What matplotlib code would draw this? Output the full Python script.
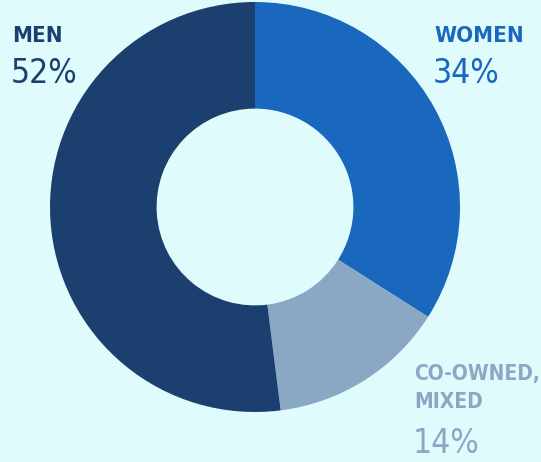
import matplotlib
matplotlib.use('Agg')
import matplotlib.pyplot as plt

# ownership split
labels = ['WOMEN', 'CO-OWNED,\nMIXED', 'MEN']
shares = [34, 14, 52]
colors = ['#1a67be', '#8aa8c4', '#1b3f6e']
bg = '#e0fbfc'

W, H = 541, 462
fig = plt.figure(figsize=(W / 100, H / 100), dpi=100)
fig.patch.set_facecolor(bg)

# donut centre and radius in pixels
cx, cy, r = 255, 207, 205
ax = fig.add_axes([(cx - r) / W, (H - cy - r) / H, 2 * r / W, 2 * r / H])
ax.pie(shares, colors=colors, startangle=90, counterclock=False,
       wedgeprops=dict(width=0.52, linewidth=0), radius=1)
ax.set_xlim(-1, 1)
ax.set_ylim(-1, 1)
ax.set_aspect('equal')
ax.axis('off')

font = ['DejaVu Sans']

def put(x, y, s, color, size, weight='bold'):
    fig.text(x / W, 1 - y / H, s, color=color, fontsize=size, family=font,
             fontweight=weight, fontstretch='condensed',
             ha='left', va='baseline')

# labels with percentages
put(12, 42, 'MEN', colors[2], 16)
put(11, 83, f'{shares[2]}%', colors[2], 24, 'normal')
put(434, 42, 'WOMEN', colors[0], 16)
put(433, 83, f'{shares[0]}%', colors[0], 24, 'normal')
put(414, 380, 'CO-OWNED,', colors[1], 15)
put(414, 408, 'MIXED', colors[1], 15)
put(413, 453, f'{shares[1]}%', colors[1], 24, 'normal')

fig.savefig('out.png', dpi=100, facecolor=bg)
